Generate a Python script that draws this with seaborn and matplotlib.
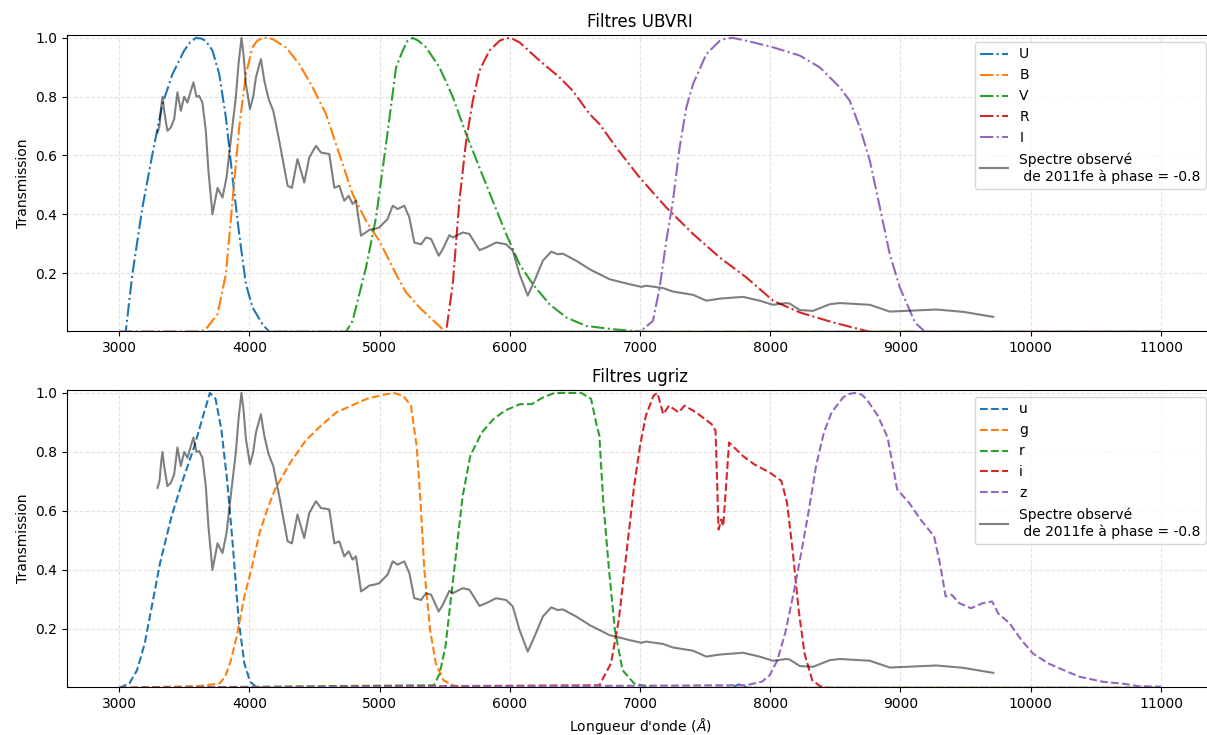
import matplotlib
matplotlib.use("Agg")
import matplotlib.pyplot as plt
import seaborn as sns

plt.rcParams["savefig.bbox"] = "standard"

# spectre observé de SN 2011fe (normalisé), phase -0.8
spec_wl = [3295, 3310, 3322, 3333, 3346, 3371, 3397, 3423, 3448, 3474,
           3500, 3525, 3551, 3571, 3594, 3615, 3640, 3666, 3686, 3717,
           3756, 3794, 3825, 3866, 3897, 3917, 3940, 3955, 3974, 4005,
           4030, 4051, 4089, 4115, 4148, 4184, 4230, 4294, 4327, 4370,
           4422, 4460, 4512, 4550, 4614, 4653, 4691, 4729, 4763, 4793,
           4819, 4858, 4922, 4960, 4998, 5024, 5062, 5101, 5139, 5190,
           5229, 5267, 5319, 5357, 5396, 5454, 5485, 5536, 5562, 5639,
           5690, 5767, 5818, 5895, 5972, 6023, 6075, 6138, 6190, 6254,
           6318, 6369, 6408, 6510, 6613, 6766, 6920, 7010, 7048, 7176,
           7253, 7407, 7509, 7612, 7791, 7919, 8022, 8124, 8150, 8227,
           8329, 8457, 8534, 8765, 8918, 9047, 9277, 9482, 9713]
spec_flux = [0.678, 0.70, 0.76, 0.80, 0.752, 0.684, 0.695, 0.724, 0.815, 0.752,
             0.80, 0.78, 0.82, 0.849, 0.80, 0.803, 0.78, 0.684, 0.548, 0.40,
             0.49, 0.457, 0.525, 0.684, 0.80, 0.911, 1.0, 0.945, 0.843, 0.758,
             0.80, 0.866, 0.928, 0.855, 0.792, 0.752, 0.65, 0.497, 0.49, 0.588,
             0.508, 0.593, 0.633, 0.61, 0.605, 0.49, 0.497, 0.446, 0.463, 0.435,
             0.446, 0.327, 0.347, 0.35, 0.355, 0.367, 0.384, 0.429, 0.418, 0.429,
             0.389, 0.304, 0.298, 0.321, 0.316, 0.259, 0.281, 0.329, 0.321, 0.338,
             0.333, 0.278, 0.287, 0.304, 0.298, 0.276, 0.196, 0.123, 0.174, 0.242,
             0.273, 0.264, 0.266, 0.242, 0.213, 0.179, 0.162, 0.153, 0.157, 0.149,
             0.137, 0.126, 0.106, 0.113, 0.119, 0.106, 0.092, 0.098, 0.096, 0.074,
             0.0715, 0.094, 0.098, 0.092, 0.069, 0.0715, 0.076, 0.068, 0.051]

# filtres UBVRI
U_wl = [3000, 3051, 3102, 3179, 3256, 3333, 3410, 3500, 3545, 3590,
        3630, 3666, 3717, 3769, 3820, 3871, 3922, 3974, 4025, 4101,
        4153, 11000]
U_tr = [0, 0, 0.196, 0.423, 0.605, 0.775, 0.877, 0.957, 0.985, 1.0,
        0.998, 0.99, 0.957, 0.877, 0.73, 0.525, 0.333, 0.162, 0.083, 0.026,
        0, 0]
B_wl = [3000, 3620, 3666, 3756, 3820, 3871, 3922, 3974, 4025, 4060,
        4101, 4140, 4179, 4281, 4384, 4486, 4589, 4691, 4793, 4896,
        4998, 5101, 5152, 5203, 5306, 5485, 5520, 11000]
B_tr = [0, 0, 0.009, 0.06, 0.196, 0.446, 0.695, 0.877, 0.968, 0.99,
        1.0, 1.0, 0.996, 0.968, 0.911, 0.832, 0.741, 0.605, 0.469, 0.378,
        0.31, 0.219, 0.175, 0.135, 0.083, 0.009, 0, 0]
V_wl = [3000, 4742, 4793, 4896, 4973, 5050, 5127, 5178, 5215, 5255,
        5300, 5357, 5460, 5562, 5665, 5767, 5869, 5972, 6075, 6177,
        6305, 6434, 6587, 6792, 6946, 7050, 11000]
V_tr = [0, 0, 0.037, 0.219, 0.389, 0.639, 0.90, 0.957, 0.99, 1.0,
        0.99, 0.968, 0.90, 0.80, 0.673, 0.559, 0.446, 0.333, 0.23, 0.162,
        0.094, 0.049, 0.02, 0.009, 0.003, 0, 0]
R_wl = [3000, 5511, 5562, 5613, 5665, 5716, 5767, 5844, 5921, 5972,
        6020, 6075, 6228, 6382, 6484, 6613, 6689, 6818, 6997, 7202,
        7407, 7612, 7817, 8022, 8227, 8483, 8765, 11000]
R_tr = [0, 0, 0.162, 0.446, 0.65, 0.786, 0.889, 0.957, 0.99, 1.0,
        0.997, 0.985, 0.923, 0.866, 0.82, 0.741, 0.707, 0.627, 0.525, 0.423,
        0.333, 0.253, 0.185, 0.106, 0.066, 0.032, 0, 0]
I_wl = [3000, 6997, 7099, 7151, 7202, 7253, 7304, 7356, 7407, 7509,
        7612, 7660, 7714, 7790, 7868, 8022, 8227, 8380, 8534, 8611,
        8688, 8765, 8842, 8918, 8995, 9111, 9188, 11000]
I_tr = [0, 0, 0.037, 0.151, 0.31, 0.446, 0.627, 0.764, 0.843, 0.945,
        0.99, 0.998, 1.0, 0.993, 0.985, 0.968, 0.94, 0.90, 0.832, 0.786,
        0.695, 0.582, 0.423, 0.264, 0.151, 0.032, 0, 0]

# filtres ugriz
u_wl = [3000, 3079, 3138, 3197, 3256, 3315, 3403, 3491, 3579, 3638,
        3697, 3741, 3785, 3829, 3874, 3918, 3962, 4006, 4050, 4100,
        7700, 7760, 7830, 11000]
u_tr = [0, 0.015, 0.06, 0.151, 0.287, 0.424, 0.582, 0.707, 0.82, 0.911,
        1.0, 0.98, 0.877, 0.707, 0.48, 0.23, 0.083, 0.021, 0.004, 0,
        0, 0.012, 0, 0]
g_wl = [3000, 3609, 3771, 3815, 3859, 3903, 3962, 4021, 4079, 4138,
        4197, 4315, 4432, 4550, 4668, 4785, 4903, 5021, 5109, 5182,
        5241, 5285, 5315, 5344, 5388, 5432, 5491, 5579, 5650, 11000]
g_tr = [0, 0.006, 0.015, 0.038, 0.094, 0.174, 0.31, 0.412, 0.526, 0.605,
        0.673, 0.764, 0.838, 0.889, 0.934, 0.957, 0.98, 0.993, 1.0, 0.99,
        0.957, 0.82, 0.628, 0.40, 0.197, 0.083, 0.026, 0.006, 0, 0]
r_wl = [3000, 5418, 5462, 5506, 5550, 5594, 5638, 5697, 5785, 5874,
        5962, 6079, 6168, 6256, 6344, 6550, 6624, 6668, 6688, 6718,
        6762, 6807, 6866, 6955, 7045, 7100, 11000]
r_tr = [0, 0.009, 0.049, 0.14, 0.31, 0.48, 0.65, 0.787, 0.866, 0.911,
        0.94, 0.962, 0.962, 0.985, 1.0, 1.0, 0.98, 0.889, 0.855, 0.628,
        0.40, 0.197, 0.06, 0.015, 0.006, 0, 0]
i_wl = [3000, 6688, 6777, 6837, 6896, 6955, 7000, 7045, 7104, 7134,
        7178, 7223, 7297, 7342, 7431, 7550, 7580, 7603, 7624, 7639,
        7684, 7788, 7877, 7996, 8085, 8129, 8174, 8218, 8263, 8322,
        8382, 8450, 11000]
i_tr = [0, 0.009, 0.083, 0.23, 0.458, 0.685, 0.82, 0.923, 0.991, 1.0,
        0.928, 0.957, 0.934, 0.957, 0.934, 0.894, 0.872, 0.537, 0.571, 0.548,
        0.832, 0.787, 0.758, 0.73, 0.702, 0.628, 0.458, 0.265, 0.117, 0.026,
        0.006, 0, 0]
z_wl = [3000, 7817, 7936, 7996, 8055, 8114, 8174, 8233, 8293, 8352,
        8412, 8471, 8560, 8600, 8649, 8700, 8738, 8826, 8901, 8975,
        9065, 9154, 9258, 9302, 9347, 9392, 9452, 9541, 9630, 9704,
        9749, 9838, 9927, 10016, 10135, 10254, 10373, 10551, 10729, 10818,
        11000]
z_tr = [0, 0.009, 0.021, 0.043, 0.094, 0.185, 0.31, 0.446, 0.594, 0.753,
        0.866, 0.934, 0.985, 0.996, 1.0, 0.995, 0.98, 0.923, 0.849, 0.673,
        0.628, 0.571, 0.514, 0.424, 0.31, 0.316, 0.287, 0.27, 0.287, 0.293,
        0.253, 0.219, 0.163, 0.117, 0.083, 0.06, 0.038, 0.021, 0.013, 0.006,
        0.004]

filtres_ubvri = [("U", U_wl, U_tr), ("B", B_wl, B_tr), ("V", V_wl, V_tr),
                 ("R", R_wl, R_tr), ("I", I_wl, I_tr)]
filtres_ugriz = [("u", u_wl, u_tr), ("g", g_wl, g_tr), ("r", r_wl, r_tr),
                 ("i", i_wl, i_tr), ("z", z_wl, z_tr)]

couleurs = sns.color_palette("tab10", 5)
label_spec = "Spectre observé\n de 2011fe à phase = -0.8"

fig = plt.figure(figsize=(12.07, 7.35), dpi=100)
ax1 = fig.add_axes([0.0555, 0.5497, 0.9495, 0.4027])
ax2 = fig.add_axes([0.0555, 0.0653, 0.9495, 0.4041])


def tracer(ax, filtres, style, titre):
    for (nom, wl, tr), c in zip(filtres, couleurs):
        sns.lineplot(x=wl, y=tr, ax=ax, color=c, linestyle=style, lw=1.5,
                     label=nom, errorbar=None)
    sns.lineplot(x=spec_wl, y=spec_flux, ax=ax, color="black", alpha=0.5,
                 lw=1.5, label=label_spec, errorbar=None)
    ax.set_title(titre, fontsize=12)
    ax.set_ylabel("Transmission")
    ax.set_xlabel("")
    ax.set_ylim(0.003, 1.01)
    ax.set_yticks([0.2, 0.4, 0.6, 0.8, 1.0])
    ax.set_xticks(range(3000, 11001, 1000))
    ax.grid(True, linestyle="--", alpha=0.35)
    # le bord droit sort de l'image dans l'original
    ax.spines["right"].set_visible(False)
    ax.legend(loc="upper right")


tracer(ax1, filtres_ubvri, "-.", "Filtres UBVRI")
tracer(ax2, filtres_ugriz, "--", "Filtres ugriz")
ax2.set_xlabel(r"Longueur d'onde ($\AA$)")

fig.savefig("out.png", dpi=100)
